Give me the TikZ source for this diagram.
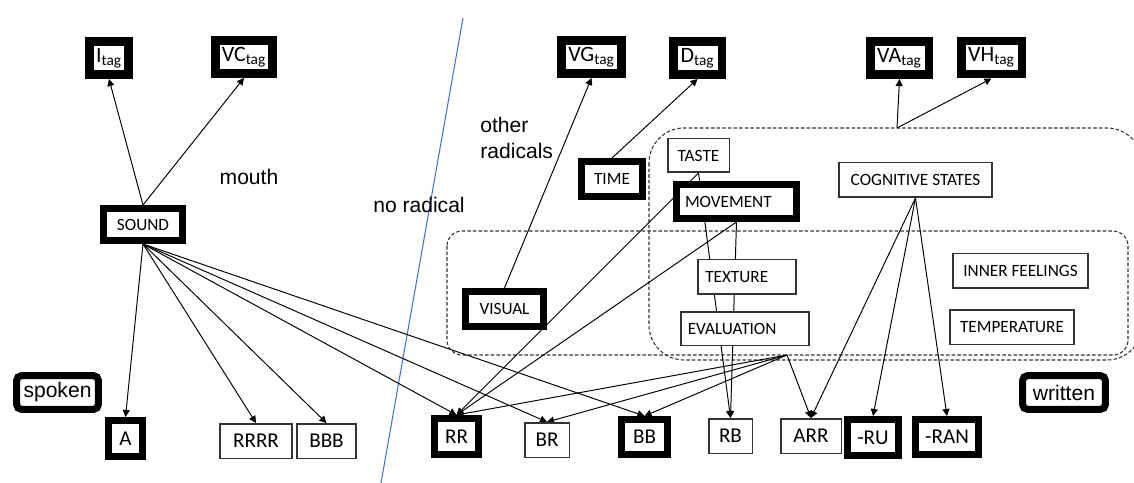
\documentclass[tikz,border=0pt]{standalone}
\usepackage{fontspec}
\setmainfont{Carlito}
\newfontfamily\arialfont{Liberation Sans}
\usetikzlibrary{positioning,arrows.meta,backgrounds}

\definecolor{officeblue}{HTML}{4472C4}

\tikzset{
	box/.style={draw=black!80, line width=0.85pt, fill=white, inner sep=0pt, font=\fontsize{9.8}{12}\selectfont},
	bbox/.style={box, draw=black, line width=0.14cm},
	tagbox/.style={bbox, line width=0.17cm, font=\fontsize{12.5}{14}\selectfont, minimum height=0.67cm},
	leaf/.style={box, font=\fontsize{12}{14}\selectfont, minimum height=0.69cm},
	bleaf/.style={leaf, draw=black, line width=0.14cm, minimum height=0.72cm},
	side/.style={bbox, rounded corners=3pt, font=\arialfont\fontsize{12}{14}\selectfont, minimum width=1.64cm, minimum height=0.68cm},
	note/.style={inner sep=0pt, font=\arialfont\fontsize{12}{14.5}\selectfont, align=left},
	group/.style={draw=black!80, line width=0.6pt, dash pattern=on 2pt off 1.2pt},
	link/.style={-{Triangle[length=4pt,width=4pt]}, line width=0.55pt},
}

\begin{document}
\begin{tikzpicture}[x=0.02cm, y=-0.02cm]
	\useasboundingbox (0,0) rectangle (1134,483);

	% tags along the top
	\node[tagbox, minimum width=0.79cm] (itag) at (109,58) {I\textsubscript{tag}};
	\node[tagbox, minimum width=1.15cm] (vctag) at (244,57) {VC\textsubscript{tag}};
	\node[tagbox, minimum width=1.21cm] (vgtag) at (591.5,57) {VG\textsubscript{tag}};
	\node[tagbox, minimum width=0.97cm] (dtag) at (697.5,58) {D\textsubscript{tag}};
	\node[tagbox, minimum width=1.17cm] (vatag) at (899.5,58) {VA\textsubscript{tag}};
	\node[tagbox, minimum width=1.21cm] (vhtag) at (991.5,57.5) {VH\textsubscript{tag}};

	% meaning classes
	\node[bbox, minimum width=1.58cm, minimum height=0.64cm] (sound) at (143,224.5) {SOUND};
	\node[bbox, minimum width=1.22cm, minimum height=0.70cm] (time) at (612,179) {TIME};
	\node[box, minimum width=1.23cm, minimum height=0.67cm] (taste) at (698.5,155.5) {TASTE};
	\node[bbox, minimum width=2.40cm, minimum height=0.68cm, text width=2.06cm, inner xsep=0.17cm, align=left] (move) at (736.5,201.5) {MOVEMENT};
	\node[box, minimum width=3.07cm, minimum height=0.69cm] (cog) at (915.5,180) {COGNITIVE STATES};
	\node[bbox, minimum width=1.56cm, minimum height=0.70cm] (visual) at (504.5,309) {VISUAL};
	\node[box, minimum width=1.97cm, minimum height=0.69cm, text width=1.67cm, inner xsep=0.15cm, align=left] (texture) at (747,277) {TEXTURE};
	\node[box, minimum width=2.57cm, minimum height=0.67cm, text width=2.29cm, inner xsep=0.14cm, align=left] (eval) at (745,328.5) {EVALUATION};
	\node[box, minimum width=2.71cm, minimum height=0.69cm] (inner) at (1020.5,271) {INNER FEELINGS};
	\node[box, minimum width=2.49cm, minimum height=0.69cm] (temp) at (1012,327) {TEMPERATURE};

	% endings
	\node[bleaf, minimum width=0.68cm] (a) at (125.5,438.5) {A};
	\node[leaf, minimum width=1.45cm] (rrrr) at (256,441) {RRRR};
	\node[leaf, minimum width=1.19cm] (bbb) at (326.5,441) {BBB};
	\node[bleaf, minimum width=0.88cm] (rr) at (456.5,436.5) {RR};
	\node[leaf, minimum width=0.89cm] (br) at (547,440) {BR};
	\node[bleaf, minimum width=0.92cm, minimum height=0.70cm] (bb) at (644.5,437) {BB};
	\node[leaf, minimum width=0.87cm] (rb) at (730.5,436) {RB};
	\node[leaf, minimum width=1.21cm] (arr) at (811,436) {ARR};
	\node[bleaf, minimum width=1.02cm] (ru) at (873,437.5) {-RU};
	\node[bleaf, minimum width=1.26cm, minimum height=0.70cm] (ran) at (947,437) {-RAN};

	\node[side] (spoken) at (57.5,392.5) {spoken};
	\node[side, minimum width=1.66cm] (written) at (1064,392.5) {written};

	\node[note] (mouth) at (249,177) {mouth};
	\node[note] (norad) at (419,205) {no radical};
	\node[note, anchor=north west] (other) at (480,117) {other\\radicals};

	\coordinate (ctop) at (897,128);
	\coordinate (evout) at (787,355);

	\begin{scope}[on background layer]
		\draw[group, rounded corners=0.3cm] (447,231) rectangle (1128,355);
		\draw[group, rounded corners=0.7cm] (649,128) rectangle (1142,360);
		\draw[officeblue, line width=0.6pt] (463,18)--(381,483);

		\foreach \t in {itag,vctag} \draw[link] (sound.north)--(\t.south);
		\foreach \t in {a,rrrr,bbb,rr,br,bb} \draw[link] (sound.south)--(\t.north);
		\draw[link] (visual.north)--(vgtag.south);
		\draw[link] (time.north)--(dtag.south);
		\foreach \t in {rr,rb} {
			\draw[link] (taste.south)--(\t.north);
			\draw[link] (move.south)--(\t.north);
		}
		\foreach \t in {rr,br,bb,arr} \draw[link] (evout)--(\t.north);
		\foreach \t in {arr,ru,ran} \draw[link] (cog.south)--(\t.north);
		\foreach \t in {vatag,vhtag} \draw[link] (ctop)--(\t.south);
	\end{scope}
\end{tikzpicture}
\end{document}
